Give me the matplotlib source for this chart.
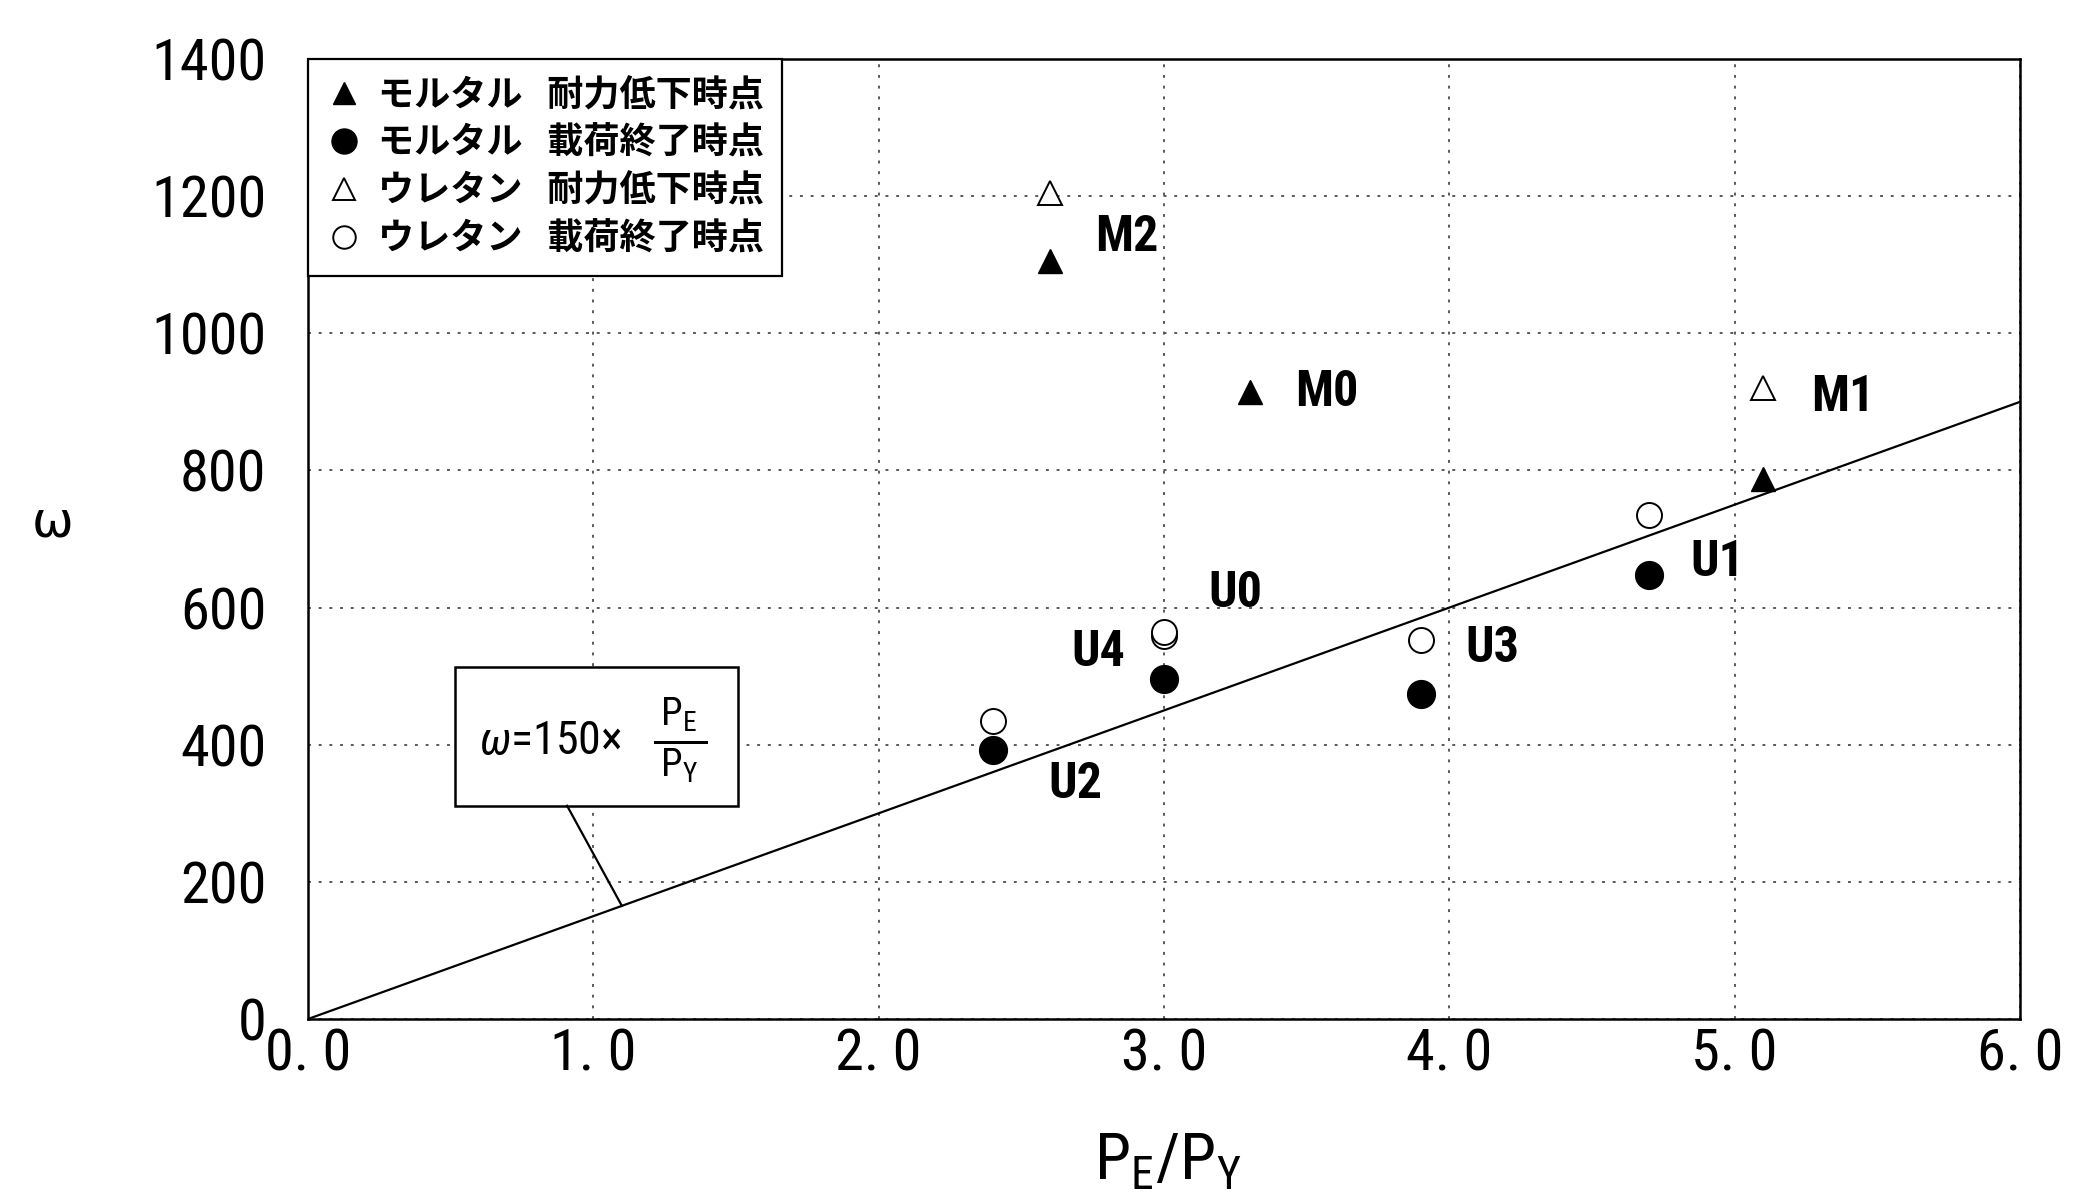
import matplotlib
matplotlib.use('Agg')
import matplotlib.pyplot as plt
import matplotlib.patches as mpatches
from matplotlib import font_manager as fm

# --- data ---
mortar_drop_x = [2.6, 3.3, 5.1]          # ▲ モルタル 耐力低下時点
mortar_drop_y = [1105, 915, 788]
mortar_end_x = [2.4, 3.0, 3.9, 4.7]      # ● モルタル 載荷終了時点
mortar_end_y = [393, 496, 474, 648]
urethane_drop_x = [2.6, 5.1]             # △ ウレタン 耐力低下時点
urethane_drop_y = [1205, 920]
urethane_end_x = [2.4, 3.0, 3.0, 3.9, 4.7]   # ○ ウレタン 載荷終了時点
urethane_end_y = [435, 558, 565, 553, 735]

SLOPE = 150                              # ω = 150 × PE/PY
line_x = [0.0, 6.0]

spec_names = ['M2', 'M0', 'M1', 'U1', 'U0', 'U4', 'U3', 'U2']
spec_label_x = [2.87, 3.57, 5.38, 4.94, 3.25, 2.77, 4.15, 2.69]
spec_label_y = [1139, 913, 907, 666, 620, 535, 541, 342]

legend_labels = ['モルタル   耐力低下時点', 'モルタル   載荷終了時点',
                 'ウレタン   耐力低下時点', 'ウレタン   載荷終了時点']

x_ticks = [0, 1, 2, 3, 4, 5, 6]
x_tick_labels = ['0. 0', '1. 0', '2. 0', '3. 0', '4. 0', '5. 0', '6. 0']
y_ticks = [0, 200, 400, 600, 800, 1000, 1200, 1400]
y_tick_labels = ['0', '200', '400', '600', '800', '1000', '1200', '1400']

# --- fonts ---
available = {f.name for f in fm.fontManager.ttflist}


def first_font(cands):
    for c in cands:
        if c in available:
            return c
    return 'DejaVu Sans'


NARROW = first_font(['Liberation Sans Narrow', 'DejaVu Sans Condensed',
                     'Roboto Condensed', 'Liberation Sans'])
JP = first_font(['Noto Sans CJK JP', 'Noto Sans CJK SC'])

plt.rcParams['font.family'] = [NARROW, 'DejaVu Sans']
plt.rcParams['mathtext.fontset'] = 'custom'
plt.rcParams['mathtext.rm'] = NARROW
plt.rcParams['mathtext.it'] = NARROW + ':italic'
plt.rcParams['mathtext.bf'] = NARROW + ':bold'

W, H = 2073, 1195
fig = plt.figure(figsize=(W / 100, H / 100), dpi=100)
ax = fig.add_axes([308 / W, 1 - 1019 / H, (2020 - 308) / W, (1019 - 59) / H])

# grid
ax.set_xlim(0, 6)
ax.set_ylim(0, 1400)
ax.set_xticks(x_ticks)
ax.set_xticklabels(x_tick_labels, fontsize=42)
ax.set_yticks(y_ticks)
ax.set_yticklabels(y_tick_labels, fontsize=42)
ax.tick_params(axis='both', length=0)
ax.tick_params(axis='y', pad=30)
ax.tick_params(axis='x', pad=6)
ax.grid(True, color='0.35', linestyle=(0, (1.5, 4)), linewidth=1.4, zorder=0)
ax.set_axisbelow(True)
for sp in ax.spines.values():
    sp.set_linewidth(1.8)
    sp.set_color('black')

# reference line
ax.plot(line_x, [SLOPE * v for v in line_x], color='black', lw=1.6, zorder=2)

# points
ax.plot(mortar_drop_x, mortar_drop_y, ls='none', marker='^', ms=17,
        color='black', zorder=4, label=legend_labels[0])
ax.plot(mortar_end_x, mortar_end_y, ls='none', marker='o', ms=20,
        color='black', zorder=4, label=legend_labels[1])
ax.plot(urethane_drop_x, urethane_drop_y, ls='none', marker='^', ms=17,
        mfc='white', mec='black', mew=1.4, zorder=4, label=legend_labels[2])
ax.plot(urethane_end_x, urethane_end_y, ls='none', marker='o', ms=18,
        mfc='white', mec='black', mew=1.4, zorder=3, label=legend_labels[3])

# specimen labels
for name, lx, ly in zip(spec_names, spec_label_x, spec_label_y):
    ax.text(lx, ly, name, fontsize=36, fontweight='bold',
            ha='center', va='center', zorder=5)

# formula box with leader line
ax.add_patch(mpatches.Rectangle((0.516, 311), 0.992, 202, facecolor='white',
                                edgecolor='black', lw=1.8, zorder=3))
ax.plot([0.908, 1.1], [311, SLOPE * 1.1], color='black', lw=1.6, zorder=3)
ax.text(0.60, 406, r'$\omega$=150×', fontsize=33, ha='left', va='center',
        zorder=4)
ax.text(1.305, 406,
        r'$\frac{\;\mathregular{P_E}\;}{\;\mathregular{P_Y}\;}$',
        fontsize=40, ha='center', va='center', zorder=4)

# legend
leg = ax.legend(loc='upper left', borderaxespad=0, fancybox=False,
                framealpha=1, edgecolor='black', handlelength=1.0,
                handletextpad=0.45, borderpad=0.5, labelspacing=0.3,
                markerscale=0.9,
                prop={'family': [JP, 'DejaVu Sans'], 'weight': 'bold',
                      'size': 26})
leg.get_frame().set_linewidth(1.6)
leg.set_zorder(6)

# axis labels
fig.text(53 / W, 1 - 522 / H, 'ω', fontsize=36, family='DejaVu Sans',
         ha='center', va='center')
fig.text(1168 / W, 1 - 1180 / H, r'$\mathregular{P_E/P_Y}$', fontsize=47,
         ha='center', va='baseline')

fig.savefig('out.png', dpi=100)
